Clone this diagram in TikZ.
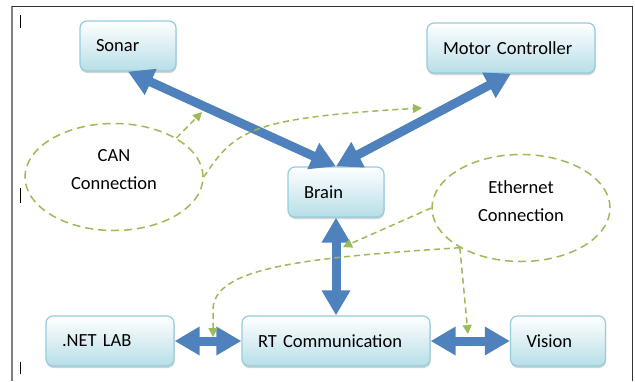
\documentclass[tikz,border=0pt]{standalone}
\usepackage{fontspec}
\setmainfont{Carlito}
\usetikzlibrary{shapes.geometric,arrows.meta,shadows}
\definecolor{boxline}{HTML}{93CDDD}
\definecolor{boxfill}{HTML}{B7DEE8}
\definecolor{bigarrow}{HTML}{4F81BD}
\definecolor{dashgreen}{HTML}{9BBB59}
\begin{document}
\begin{tikzpicture}[x=1pt,y=-1pt,
	unit/.style={draw=boxline, line width=1.2pt, rounded corners=7pt,
		top color=white, bottom color=boxfill, minimum height=50pt,
		inner xsep=16pt, text width=#1, align=left,
		font=\fontsize{18.5}{22}\selectfont,
		drop shadow={shadow xshift=0.5pt, shadow yshift=-2pt, opacity=0.35}},
	bus/.style={ellipse, draw=dashgreen, line width=1.5pt,
		dash pattern=on 8pt off 5pt, minimum width=178pt, minimum height=107pt},
	bustext/.style={align=center, font=\fontsize{18.5}{28}\selectfont},
	link/.style={draw=dashgreen, line width=1.5pt, dash pattern=on 6pt off 4pt,
		-{Triangle[width=9pt,length=9pt]}},
	wire/.style={draw=bigarrow, line width=9pt,
		{Triangle[width=27pt,length=25pt]}-{Triangle[width=27pt,length=25pt]}}]
	
	\useasboundingbox (0,0) rectangle (635,381);
	\draw[gray, line width=1.5pt] (12,381) -- (12,6);
	\draw[black!80, line width=1pt] (12,6) -- (632,6) -- (632,381);
	\draw[line width=1pt] (20,15) -- (20,28) (20,188) -- (20,203) (20,362) -- (20,374);
	
	\node[bus] (can) at (114,177) {};
	\node[bustext] (cantext) at ([yshift=7pt]can.center) {CAN\\Connection};
	\node[bus] (eth) at (521,208) {};
	\node[bustext] (ethtext) at ([yshift=7pt]eth.center) {Ethernet\\Connection};
	
	\node[unit=64pt] (sonar) at (128,46) {Sonar};
	\node[unit=136pt] (motor) at (511,48) {Motor Controller};
	\node[unit=64pt] (brain) at (336,192) {Brain};
	\node[unit=96pt] (netlab) at (110,341) {.NET LAB};
	\node[unit=156pt] (rtcomm) at (336,341) {RT Communication};
	\node[unit=63pt] (vision) at (558,341) {Vision};
	
	\draw[wire] (sonar.south) -- (brain.north);
	\draw[wire] (motor.south) -- (brain.north);
	\draw[wire] (brain.south) -- (rtcomm.north);
	\draw[wire] (netlab.east) -- (rtcomm.west);
	\draw[wire] (rtcomm.east) -- (vision.west);
	
	\coordinate (sonarin) at (202,112);
	\coordinate (motorin) at (422,108);
	\coordinate (brainin) at (343,247);
	\coordinate (netin) at (213,337);
	\coordinate (visin) at (468,334);
	
	\draw[link] (can.32) -- (sonarin);
	\draw[link] (can.east) .. controls (235,130) and (250,118) .. (motorin);
	\draw[link] (eth.west) -- (brainin);
	\draw[link] (eth.213) .. controls (300,258) and (213,268) .. (213,310) -- (netin);
	\draw[link] (eth.213) -- (visin);
\end{tikzpicture}
\end{document}
